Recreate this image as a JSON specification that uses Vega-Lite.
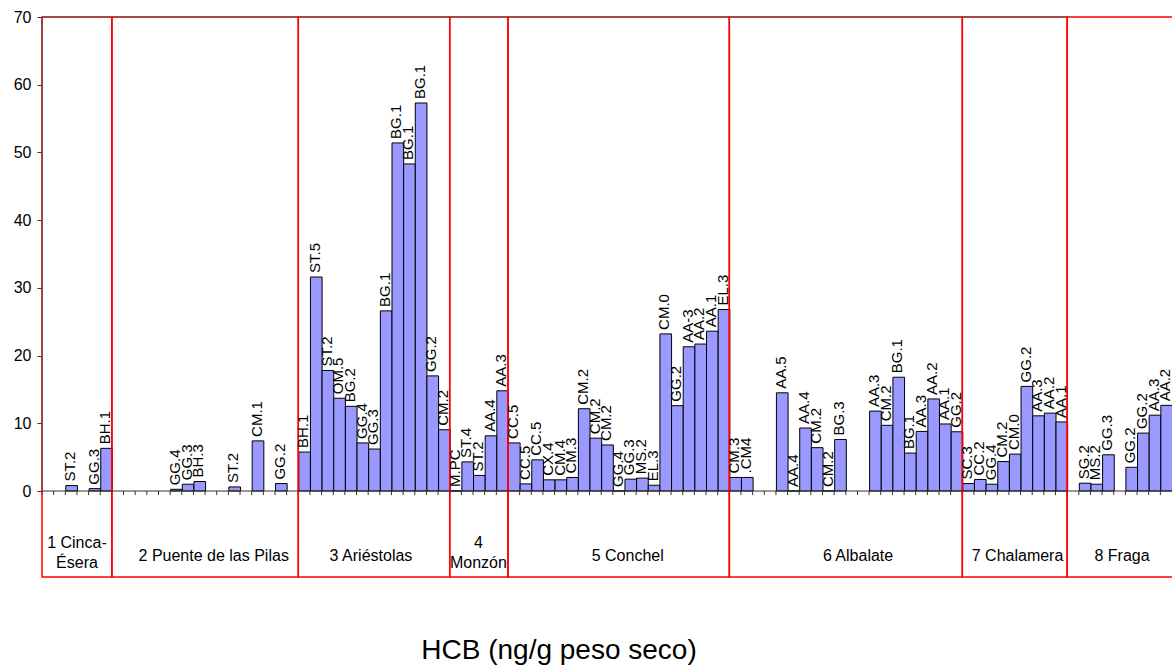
{
  "$schema": "https://vega.github.io/schema/vega-lite/v6.json",
  "width": 1130,
  "height": 560,
  "autosize": {"type": "none"},
  "padding": {"left": 42, "top": 17, "right": 0, "bottom": 89},
  "background": "white",
  "config": {"view": {"stroke": null}, "font": "Liberation Sans"},
  "title": {"text": "HCB (ng/g peso seco)", "orient": "bottom", "anchor": "middle", "fontSize": 28, "fontWeight": "normal", "font": "Liberation Sans", "color": "black", "dx": -48, "offset": 59},
  "datasets": {
    "samples": [
      {"slot": 0, "id": "", "hcb": null}, {"slot": 1, "id": "", "hcb": null}, {"slot": 2, "id": "ST.2", "hcb": 0.8}, {"slot": 3, "id": "", "hcb": null}, {"slot": 4, "id": "GG.3", "hcb": 0.35}, {"slot": 5, "id": "BH.1", "hcb": 6.3},
      {"slot": 6, "id": "", "hcb": null}, {"slot": 7, "id": "", "hcb": null}, {"slot": 8, "id": "", "hcb": null}, {"slot": 9, "id": "", "hcb": null}, {"slot": 10, "id": "", "hcb": null},
      {"slot": 11, "id": "GG.4", "hcb": 0.25}, {"slot": 12, "id": "GG.3", "hcb": 1.0}, {"slot": 13, "id": "BH.3", "hcb": 1.4}, {"slot": 14, "id": "", "hcb": null}, {"slot": 15, "id": "", "hcb": null},
      {"slot": 16, "id": "ST.2", "hcb": 0.6}, {"slot": 17, "id": "", "hcb": null}, {"slot": 18, "id": "CM.1", "hcb": 7.4}, {"slot": 19, "id": "", "hcb": null}, {"slot": 20, "id": "GG.2", "hcb": 1.1}, {"slot": 21, "id": "", "hcb": null},
      {"slot": 22, "id": "BH.1", "hcb": 5.75}, {"slot": 23, "id": "ST.5", "hcb": 31.6}, {"slot": 24, "id": "ST.2", "hcb": 17.8}, {"slot": 25, "id": "OM.5", "hcb": 13.7}, {"slot": 26, "id": "BG.2", "hcb": 12.5},
      {"slot": 27, "id": "GG.4", "hcb": 7.1}, {"slot": 28, "id": "GG.3", "hcb": 6.2}, {"slot": 29, "id": "BG.1", "hcb": 26.6}, {"slot": 30, "id": "BG.1", "hcb": 51.4}, {"slot": 31, "id": "BG.1", "hcb": 48.3},
      {"slot": 32, "id": "BG.1", "hcb": 57.3}, {"slot": 33, "id": "GG.2", "hcb": 17.0}, {"slot": 34, "id": "CM.2", "hcb": 9.05},
      {"slot": 35, "id": "M.PC", "hcb": 0}, {"slot": 36, "id": "ST.4", "hcb": 4.3}, {"slot": 37, "id": "ST.2", "hcb": 2.3}, {"slot": 38, "id": "AA.4", "hcb": 8.15}, {"slot": 39, "id": "AA.3", "hcb": 14.8},
      {"slot": 40, "id": "CC.5", "hcb": 7.1}, {"slot": 41, "id": "CC.5", "hcb": 1.05}, {"slot": 42, "id": "CC.5", "hcb": 4.6}, {"slot": 43, "id": "CX.4", "hcb": 1.65}, {"slot": 44, "id": "CM.4", "hcb": 1.65},
      {"slot": 45, "id": "CM.3", "hcb": 2.0}, {"slot": 46, "id": "CM.2", "hcb": 12.15}, {"slot": 47, "id": "CM.2", "hcb": 7.8}, {"slot": 48, "id": "CM.2", "hcb": 6.8}, {"slot": 49, "id": "GG.4", "hcb": 0},
      {"slot": 50, "id": "GG.3", "hcb": 1.75}, {"slot": 51, "id": "MS.2", "hcb": 1.9}, {"slot": 52, "id": "EL.3", "hcb": 0.85}, {"slot": 53, "id": "CM.0", "hcb": 23.2}, {"slot": 54, "id": "GG.2", "hcb": 12.6},
      {"slot": 55, "id": "AA-3", "hcb": 21.3}, {"slot": 56, "id": "AA.2", "hcb": 21.7}, {"slot": 57, "id": "AA.1", "hcb": 23.6}, {"slot": 58, "id": "EL.3", "hcb": 26.8},
      {"slot": 59, "id": "CM.3", "hcb": 2.0}, {"slot": 60, "id": ".CM4", "hcb": 2.0}, {"slot": 61, "id": "", "hcb": null}, {"slot": 62, "id": "", "hcb": null}, {"slot": 63, "id": "AA.5", "hcb": 14.5},
      {"slot": 64, "id": "AA.4", "hcb": 0}, {"slot": 65, "id": "AA.4", "hcb": 9.3}, {"slot": 66, "id": "CM.2", "hcb": 6.4}, {"slot": 67, "id": "CM.2", "hcb": 0}, {"slot": 68, "id": "BG.3", "hcb": 7.6},
      {"slot": 69, "id": "", "hcb": null}, {"slot": 70, "id": "", "hcb": null}, {"slot": 71, "id": "AA.3", "hcb": 11.8}, {"slot": 72, "id": "CM.2", "hcb": 9.7}, {"slot": 73, "id": "BG.1", "hcb": 16.8},
      {"slot": 74, "id": "BG.1", "hcb": 5.6}, {"slot": 75, "id": "AA.3", "hcb": 8.8}, {"slot": 76, "id": "AA.2", "hcb": 13.6}, {"slot": 77, "id": "AA.1", "hcb": 9.9}, {"slot": 78, "id": "GG.2", "hcb": 8.75},
      {"slot": 79, "id": "SC.3", "hcb": 1.1}, {"slot": 80, "id": "CC.2", "hcb": 1.7}, {"slot": 81, "id": "GG.4", "hcb": 1.0}, {"slot": 82, "id": "CM.2", "hcb": 4.35}, {"slot": 83, "id": "CM.0", "hcb": 5.45},
      {"slot": 84, "id": "GG.2", "hcb": 15.45}, {"slot": 85, "id": "AA.3", "hcb": 11.1}, {"slot": 86, "id": "AA.2", "hcb": 11.5}, {"slot": 87, "id": "AA.1", "hcb": 10.2},
      {"slot": 88, "id": "", "hcb": null}, {"slot": 89, "id": "SG.2", "hcb": 1.15}, {"slot": 90, "id": "MS.2", "hcb": 1.0}, {"slot": 91, "id": "GG.3", "hcb": 5.35}, {"slot": 92, "id": "", "hcb": null},
      {"slot": 93, "id": "GG.2", "hcb": 3.5}, {"slot": 94, "id": "GG.2", "hcb": 8.55}, {"slot": 95, "id": "AA.3", "hcb": 11.2}, {"slot": 96, "id": "AA.2", "hcb": 12.65}
    ],
    "groups": [
      {"site": ["1 Cinca-", "Ésera"], "start": 0, "end": 6, "mid": 3.0},
      {"site": "2 Puente de las Pilas", "start": 6, "end": 22, "mid": 14.74},
      {"site": "3 Ariéstolas", "start": 22, "end": 35, "mid": 28.24},
      {"site": ["4", "Monzón"], "start": 35, "end": 40, "mid": 37.46},
      {"site": "5 Conchel", "start": 40, "end": 59, "mid": 50.28},
      {"site": "6 Albalate", "start": 59, "end": 79, "mid": 70.05},
      {"site": "7 Chalamera", "start": 79, "end": 88, "mid": 83.74},
      {"site": "8 Fraga", "start": 88, "end": 97.6, "mid": 92.71}
    ]
  },
  "layer": [
    {
      "data": {"name": "samples"},
      "mark": {"type": "bar", "fill": "#9999FF", "stroke": "black", "strokeWidth": 1, "binSpacing": 0},
      "encoding": {
        "x": {"field": "slot", "type": "quantitative", "bin": {"binned": true, "step": 1}, "scale": {"domain": [0, 97], "nice": false, "zero": false}, "axis": null},
        "y": {"field": "hcb", "type": "quantitative", "scale": {"domain": [-12.7, 70], "nice": false, "zero": false},
              "axis": {"values": [0, 10, 20, 30, 40, 50, 60, 70], "domain": false, "grid": false, "title": null, "labelFontSize": 16, "labelColor": "black", "labelFont": "Liberation Sans", "tickSize": 5, "tickColor": "#333333", "labelPadding": 6}}
      }
    },
    {
      "data": {"name": "samples"},
      "mark": {"type": "rule", "color": "#333333", "strokeWidth": 1},
      "encoding": {
        "x": {"field": "slot", "type": "quantitative"},
        "y": {"datum": 0},
        "y2": {"datum": -0.6}
      }
    },
    {
      "data": {"name": "groups"},
      "mark": {"type": "rect", "fill": null, "fillOpacity": 0, "stroke": "#FF0000", "strokeWidth": 1.5},
      "encoding": {
        "x": {"field": "start", "type": "quantitative"},
        "x2": {"field": "end"},
        "y": {"datum": -12.7},
        "y2": {"datum": 70}
      }
    },
    {
      "data": {"values": [{}]},
      "mark": {"type": "rule", "color": "#555555", "strokeWidth": 1},
      "encoding": {"x": {"datum": 0}, "x2": {"datum": 88}, "y": {"datum": 70}}
    },
    {
      "data": {"values": [{}]},
      "mark": {"type": "rule", "color": "#333333", "strokeWidth": 1},
      "encoding": {"x": {"datum": 0}, "x2": {"datum": 97}, "y": {"datum": 0}}
    },
    {
      "data": {"values": [{}]},
      "mark": {"type": "rule", "color": "#444444", "strokeWidth": 1},
      "encoding": {"x": {"datum": 0}, "y": {"datum": 0}, "y2": {"datum": 70}}
    },
    {
      "data": {"name": "samples"},
      "mark": {"type": "text", "angle": 270, "align": "left", "baseline": "middle", "dx": 4, "dy": 5, "fontSize": 15, "font": "Liberation Sans Narrow, Liberation Sans", "color": "black"},
      "encoding": {
        "x": {"field": "slot", "type": "quantitative"},
        "y": {"field": "hcb", "type": "quantitative"},
        "text": {"field": "id"}
      }
    },
    {
      "data": {"name": "groups"},
      "transform": [{"filter": "!isArray(datum.site)"}],
      "mark": {"type": "text", "fontSize": 16, "color": "black", "align": "center", "baseline": "middle"},
      "encoding": {
        "x": {"field": "mid", "type": "quantitative"},
        "y": {"datum": -9.6},
        "text": {"field": "site"}
      }
    },
    {
      "data": {"name": "groups"},
      "transform": [{"filter": "isArray(datum.site)"}],
      "mark": {"type": "text", "fontSize": 16, "color": "black", "align": "center", "baseline": "middle", "lineHeight": 20},
      "encoding": {
        "x": {"field": "mid", "type": "quantitative"},
        "y": {"datum": -7.7},
        "text": {"field": "site"}
      }
    }
  ]
}
